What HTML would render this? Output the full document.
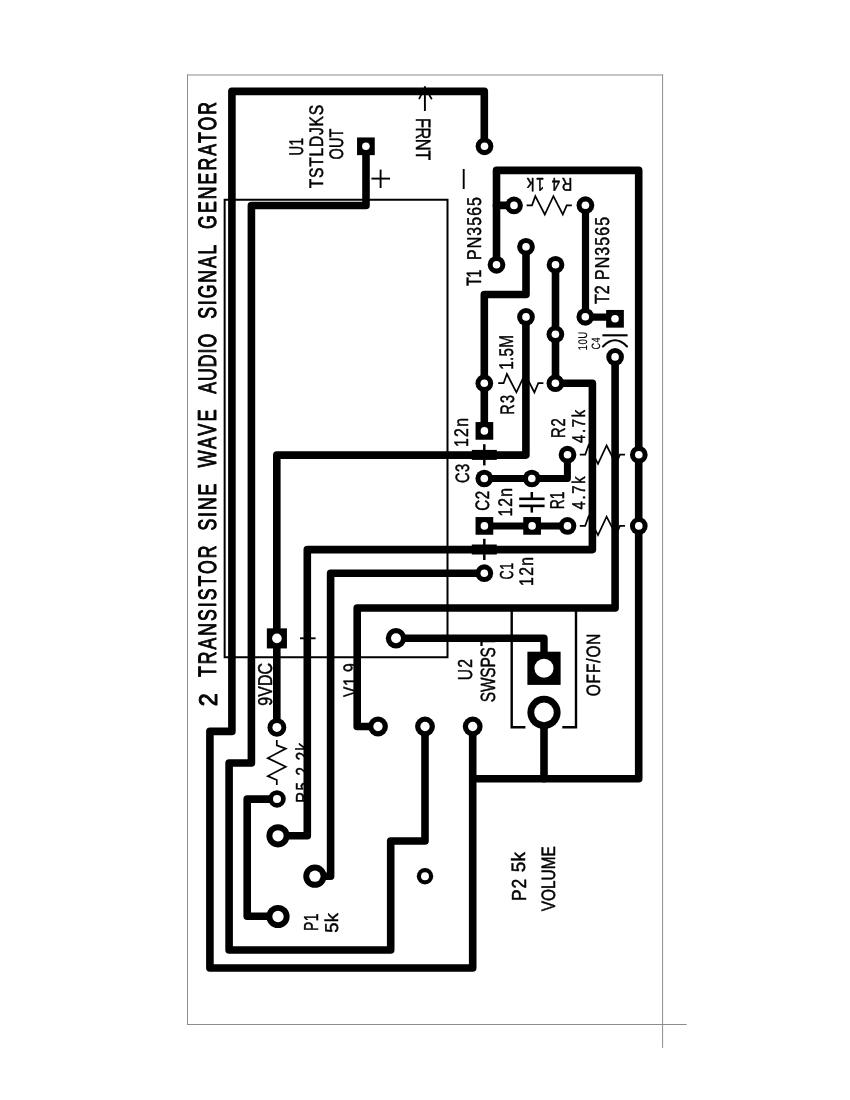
<!DOCTYPE html>
<html lang="en">
<head>
<meta charset="utf-8">
<title>2 Transistor Sine Wave Audio Signal Generator</title>
<style>
html,body{margin:0;padding:0;background:#fff;}
body{width:850px;height:1100px;overflow:hidden;}
svg{display:block;will-change:transform;}
text{font-family:"Liberation Sans",sans-serif;fill:#000;stroke:#000;stroke-linejoin:round;text-rendering:geometricPrecision;vector-effect:non-scaling-stroke;}
.tr{fill:none;stroke:#000;stroke-linejoin:round;stroke-linecap:round;}
.th{fill:none;stroke:#000;stroke-linejoin:miter;stroke-linecap:butt;}
.bd{fill:none;stroke:#8c8c8c;stroke-width:1;}
</style>
</head>
<body>
<svg width="850" height="1100" viewBox="0 0 850 1100" role="img" aria-label="PCB layout: 2 transistor sine wave audio signal generator">
<rect width="850" height="1100" fill="#fff"/>
<g class="bd">
<path d="M187 75H663M187.5 74.5V1025M187 1024.5H686.6M662.6 74.5V1047.9"/>
</g>
<g id="labels" opacity="0.999">
<text transform="translate(216.55 706.35) rotate(-90) scale(0.909 1)" font-size="25.60" textLength="23.15" lengthAdjust="spacing" stroke-width="1">2</text>
<text transform="translate(216.17 677.00) rotate(-90) scale(0.700 1)" font-size="25.25" textLength="187.86" lengthAdjust="spacing" stroke-width="1">TRANSISTOR</text>
<text transform="translate(216.17 530.53) rotate(-90) scale(0.700 1)" font-size="25.25" textLength="66.94" lengthAdjust="spacing" stroke-width="1">SINE</text>
<text transform="translate(216.42 467.62) rotate(-90) scale(0.700 1)" font-size="25.96" textLength="83.22" lengthAdjust="spacing" stroke-width="1">WAVE</text>
<text transform="translate(216.17 393.65) rotate(-90) scale(0.700 1)" font-size="25.25" textLength="85.43" lengthAdjust="spacing" stroke-width="1">AUDIO</text>
<text transform="translate(216.17 318.80) rotate(-90) scale(0.700 1)" font-size="25.25" textLength="106.01" lengthAdjust="spacing" stroke-width="1">SIGNAL</text>
<text transform="translate(216.17 228.95) rotate(-90) scale(0.700 1)" font-size="25.25" textLength="181.44" lengthAdjust="spacing" stroke-width="1">GENERATOR</text>
<text transform="translate(303.42 155.55) rotate(-90) scale(0.670 1)" font-size="19.81" textLength="26.09" lengthAdjust="spacing" stroke-width="0.5">U1</text>
<text transform="translate(322.82 188.25) rotate(-90) scale(0.800 1)" font-size="19.51" textLength="104.26" lengthAdjust="spacing" stroke-width="0.5">TSTLDJKS</text>
<text transform="translate(342.72 159.47) rotate(-90) scale(0.746 1)" font-size="19.51" textLength="41.37" lengthAdjust="spacing" stroke-width="0.5">OUT</text>
<text transform="translate(415.75 117.88) rotate(90) scale(0.791 1)" font-size="20.71" textLength="53.45" lengthAdjust="spacing" stroke-width="0.5">FRNT</text>
<text transform="translate(481.33 286.00) rotate(-90) scale(0.710 1)" font-size="20.65" textLength="23.27" lengthAdjust="spacing" stroke-width="0.5">T1</text>
<text transform="translate(481.08 259.98) rotate(-90) scale(0.800 1)" font-size="19.93" textLength="78.73" lengthAdjust="spacing" stroke-width="0.5">PN3565</text>
<text transform="translate(572.23 177.75) rotate(180) scale(0.800 1)" font-size="18.35" textLength="56.58" lengthAdjust="spacing" stroke-width="0.5">R4 1k</text>
<text transform="translate(609.05 304.12) rotate(-90) scale(0.787 1)" font-size="20.42" textLength="23.84" lengthAdjust="spacing" stroke-width="0.5">T2</text>
<text transform="translate(608.67 280.02) rotate(-90) scale(0.800 1)" font-size="20.06" textLength="78.85" lengthAdjust="spacing" stroke-width="0.5">PN3565</text>
<text transform="translate(513.73 414.70) rotate(-90) scale(0.742 1)" font-size="19.51" textLength="26.57" lengthAdjust="spacing" stroke-width="0.5">R3</text>
<text transform="translate(513.45 369.68) rotate(-90) scale(0.776 1)" font-size="19.73" textLength="44.67" lengthAdjust="spacing" stroke-width="0.5">1.5M</text>
<text transform="translate(468.48 447.05) rotate(-90) scale(0.800 1)" font-size="19.67" textLength="36.27" lengthAdjust="spacing" stroke-width="0.5">12n</text>
<text transform="translate(468.55 483.10) rotate(-90) scale(0.758 1)" font-size="19.32" textLength="25.26" lengthAdjust="spacing" stroke-width="0.5">C3</text>
<text transform="translate(489.17 510.85) rotate(-90) scale(0.778 1)" font-size="19.38" textLength="25.66" lengthAdjust="spacing" stroke-width="0.5">C2</text>
<text transform="translate(511.65 516.50) rotate(-90) scale(0.800 1)" font-size="19.60" textLength="35.62" lengthAdjust="spacing" stroke-width="0.5">12n</text>
<text transform="translate(564.45 509.35) rotate(-90) scale(0.692 1)" font-size="20.02" textLength="25.89" lengthAdjust="spacing" stroke-width="0.5">R1</text>
<text transform="translate(585.08 509.50) rotate(-90) scale(0.800 1)" font-size="18.43" textLength="41.38" lengthAdjust="spacing" stroke-width="0.5">4.7k</text>
<text transform="translate(564.72 438.00) rotate(-90) scale(0.740 1)" font-size="19.81" textLength="26.54" lengthAdjust="spacing" stroke-width="0.5">R2</text>
<text transform="translate(585.08 443.02) rotate(-90) scale(0.800 1)" font-size="18.43" textLength="41.31" lengthAdjust="spacing" stroke-width="0.5">4.7k</text>
<text transform="translate(512.60 579.50) rotate(-90) scale(0.669 1)" font-size="18.77" textLength="24.92" lengthAdjust="spacing" stroke-width="0.5">C1</text>
<text transform="translate(533.00 585.90) rotate(-90) scale(0.800 1)" font-size="19.60" textLength="36.16" lengthAdjust="spacing" stroke-width="0.5">12n</text>
<text transform="translate(271.70 705.63) rotate(-90) scale(0.800 1)" font-size="20.00" textLength="53.33" lengthAdjust="spacing" stroke-width="0.5">9VDC</text>
<text transform="translate(356.82 697.10) rotate(-90) scale(0.800 1)" font-size="19.52" textLength="42.39" lengthAdjust="spacing" stroke-width="0.5">V1.9</text>
<text transform="translate(309.18 802.80) rotate(-90) scale(0.800 1)" font-size="18.85" textLength="74.76" lengthAdjust="spacing" stroke-width="0.5">R5 2.2k</text>
<text transform="translate(471.70 680.22) rotate(-90) scale(0.777 1)" font-size="20.14" textLength="27.23" lengthAdjust="spacing" stroke-width="0.5">U2</text>
<text transform="translate(495.40 702.13) rotate(-90) scale(0.754 1)" font-size="20.54" textLength="73.02" lengthAdjust="spacing" stroke-width="0.5">SWSPS</text>
<text transform="translate(495.38 646.15) rotate(-90) scale(0.794 1)" font-size="20.78" textLength="10.26" lengthAdjust="spacing" stroke-width="0.5">T</text>
<text transform="translate(600.03 696.30) rotate(-90) scale(0.800 1)" font-size="19.25" textLength="78.42" lengthAdjust="spacing" stroke-width="0.5">OFF/ON</text>
<text transform="translate(317.85 930.88) rotate(-90) scale(0.687 1)" font-size="20.17" textLength="25.25" lengthAdjust="spacing" stroke-width="0.5">P1</text>
<text transform="translate(338.02 932.82) rotate(-90) scale(0.992 1)" font-size="18.57" textLength="19.91" lengthAdjust="spacing" stroke-width="0.5">5k</text>
<text transform="translate(525.55 901.02) rotate(-90) scale(0.859 1)" font-size="20.29" textLength="25.99" lengthAdjust="spacing" stroke-width="0.5">P2</text>
<text transform="translate(525.17 872.20) rotate(-90) scale(0.985 1)" font-size="19.25" textLength="20.62" lengthAdjust="spacing" stroke-width="0.5">5k</text>
<text transform="translate(554.63 911.25) rotate(-90) scale(0.800 1)" font-size="19.38" textLength="81.50" lengthAdjust="spacing" stroke-width="0.5">VOLUME</text>
<text transform="translate(587.10 350.47) rotate(-90) scale(0.778 1)" font-size="12.54" textLength="24.25" lengthAdjust="spacing" stroke-width="0.15" fill="#222" stroke="#222">10U</text>
<text transform="translate(599.95 349.48) rotate(-90) scale(0.753 1)" font-size="12.00" textLength="15.91" lengthAdjust="spacing" stroke-width="0.15" fill="#222" stroke="#222">C4</text>
</g>
<g id="symbols" class="th">
<polyline points="224.65,199.8 447.5,199.8 447.5,657.3 224.65,657.3 224.65,198.8" stroke-width="2"/>
<polyline points="371.4,178.6 390,178.6" stroke-width="1.9"/>
<polyline points="380.6,169.6 380.6,188" stroke-width="1.9"/>
<polyline points="463.7,169 463.7,189" stroke-width="1.9"/>
<polyline points="300,638.3 315.6,638.3" stroke-width="1.9"/>
<polyline points="424.9,86.5 424.9,111" stroke-width="1.9"/>
<polyline points="419,99.2 424.9,87.5 431.8,99.2" stroke-width="1.7"/>
<polyline points="526.6,205.3 532,205.3 535.3,196.1 544.8,214.5 553.4,196.1 562.8,214.5 566.7,205.3 571.8,205.3" stroke-width="1.7"/>
<polyline points="498.2,383.2 503.6,383.2 506.9,374 516.4,392.4 525,374 534.4,392.4 538.3,383.2 543.4,383.2" stroke-width="1.7"/>
<polyline points="579.8,454.7 585.2,454.7 588.5,445.5 598,463.9 606.6,445.5 616,463.9 619.9,454.7 625,454.7" stroke-width="1.7"/>
<polyline points="579.8,525.9 585.2,525.9 588.5,516.7 598,535.1 606.6,516.7 616,535.1 619.9,525.9 625,525.9" stroke-width="1.7"/>
<polyline points="276.8,739.9 276.8,745.3 285.8,748.6 267.8,758.1 285.8,766.7 267.8,776.1 276.8,780 276.8,785.1" stroke-width="1.7"/>
<polyline points="484.3,444.2 484.3,450.5" stroke-width="2.5"/>
<polyline points="484.3,459.5 484.3,465.4" stroke-width="2.5"/>
<polyline points="471.8,451.1 496.8,451.1" stroke-width="2.4"/>
<polyline points="471.8,458.7 496.8,458.7" stroke-width="2.4"/>
<polyline points="484.3,538.8 484.3,545.1" stroke-width="2.5"/>
<polyline points="484.3,554.1 484.3,560" stroke-width="2.5"/>
<polyline points="471.8,545.7 496.8,545.7" stroke-width="2.4"/>
<polyline points="471.8,553.3 496.8,553.3" stroke-width="2.4"/>
<polyline points="531.8,492 531.8,498.8" stroke-width="2.5"/>
<polyline points="531.8,505.9 531.8,512.6" stroke-width="2.5"/>
<polyline points="519.2,498.8 544.6,498.8" stroke-width="2.6"/>
<polyline points="519.2,505.9 544.6,505.9" stroke-width="2.6"/>
<polyline points="525.4,727.3 511.7,727.3 511.7,608 576,608 576,727.3 562.3,727.3" stroke-width="2.4"/>
<path d="M602.4 335.3H627.6" stroke-width="2.1"/>
<path d="M603 346.4Q615 334.2 627 346.4" stroke-width="2.1" stroke-linecap="round"/>
</g>
<g id="traces" class="tr">
<polyline points="484.3,146 484.3,91.4 231.9,91.4 231.9,731.4 209.9,731.4 209.9,968 472.7,968 472.7,726.2" stroke-width="7.6"/>
<polyline points="366,146.3 366,205.5 251.4,205.5 251.4,763 229.1,763 229.1,950 390.7,950 390.7,841 425,841 425,726.2" stroke-width="7.6"/>
<polyline points="525.9,317 525.9,455.1 276.8,455.1 276.8,727.4" stroke-width="7.6"/>
<polyline points="526,246.8 526,294.5 484.3,294.5 484.3,431" stroke-width="7.6"/>
<polyline points="496.5,264.8 496.5,170.4 638.7,170.4 638.7,778.8 472.7,778.8" stroke-width="7.6"/>
<polyline points="496.5,205.4 514,205.4" stroke-width="7.6"/>
<polyline points="585.5,205.2 585.5,317.1 615,317.1" stroke-width="7.2"/>
<polyline points="555.5,264.8 555.5,383.2 592.4,383.2 592.4,549.6 307.3,549.6 307.3,835.7 278,835.7" stroke-width="7.6"/>
<polyline points="484.3,573.2 330.6,573.2 330.6,876.3 315,876.3" stroke-width="7.6"/>
<polyline points="615.1,357 615.1,608 357.2,608 357.2,726.5 378,726.5" stroke-width="7.6"/>
<polyline points="484.3,478.5 567.4,478.5 567.4,454.7" stroke-width="7"/>
<polyline points="484.4,525.9 567.5,525.9" stroke-width="7"/>
<polyline points="396,638.2 544,638.2 544,655" stroke-width="7.4"/>
<polyline points="544,712 544,778.8" stroke-width="7.6"/>
<polyline points="276.9,799.1 247.2,799.1 247.2,916.2 278,916.2" stroke-width="7.6"/>
</g>
<g id="pads">
<circle cx="484.5" cy="146.3" r="8.85"/><circle cx="484.5" cy="146.3" r="3.8" fill="#fff"/>
<circle cx="514" cy="205.4" r="8.85"/><circle cx="514" cy="205.4" r="3.8" fill="#fff"/>
<circle cx="585.4" cy="205.2" r="8.85"/><circle cx="585.4" cy="205.2" r="3.8" fill="#fff"/>
<circle cx="526" cy="246.8" r="8.85"/><circle cx="526" cy="246.8" r="3.8" fill="#fff"/>
<circle cx="555.5" cy="264.8" r="8.85"/><circle cx="555.5" cy="264.8" r="3.8" fill="#fff"/>
<circle cx="496.5" cy="264.8" r="8.85"/><circle cx="496.5" cy="264.8" r="3.8" fill="#fff"/>
<circle cx="585.3" cy="316.8" r="8.85"/><circle cx="585.3" cy="316.8" r="3.8" fill="#fff"/>
<circle cx="526" cy="316.9" r="8.85"/><circle cx="526" cy="316.9" r="3.8" fill="#fff"/>
<circle cx="555.4" cy="334.3" r="8.85"/><circle cx="555.4" cy="334.3" r="3.8" fill="#fff"/>
<circle cx="484.3" cy="383.2" r="8.85"/><circle cx="484.3" cy="383.2" r="3.8" fill="#fff"/>
<circle cx="555.4" cy="383.2" r="8.85"/><circle cx="555.4" cy="383.2" r="3.8" fill="#fff"/>
<circle cx="615.1" cy="356.9" r="8.85"/><circle cx="615.1" cy="356.9" r="3.8" fill="#fff"/>
<circle cx="567.5" cy="454.7" r="8.85"/><circle cx="567.5" cy="454.7" r="3.8" fill="#fff"/>
<circle cx="484.3" cy="478.5" r="8.85"/><circle cx="484.3" cy="478.5" r="3.8" fill="#fff"/>
<circle cx="531.8" cy="478.5" r="8.85"/><circle cx="531.8" cy="478.5" r="3.8" fill="#fff"/>
<circle cx="567.5" cy="525.9" r="8.85"/><circle cx="567.5" cy="525.9" r="3.8" fill="#fff"/>
<circle cx="638.8" cy="454.7" r="8.85"/><circle cx="638.8" cy="454.7" r="3.8" fill="#fff"/>
<circle cx="638.8" cy="525.9" r="8.85"/><circle cx="638.8" cy="525.9" r="3.8" fill="#fff"/>
<circle cx="484.3" cy="573.2" r="8.85"/><circle cx="484.3" cy="573.2" r="3.8" fill="#fff"/>
<circle cx="396" cy="638.3" r="10.2"/><circle cx="396" cy="638.3" r="4.95" fill="#fff"/>
<circle cx="276.9" cy="727.4" r="9.4"/><circle cx="276.9" cy="727.4" r="4.5" fill="#fff"/>
<circle cx="378" cy="726.5" r="9.9"/><circle cx="378" cy="726.5" r="4.65" fill="#fff"/>
<circle cx="425" cy="726.5" r="9.9"/><circle cx="425" cy="726.5" r="4.65" fill="#fff"/>
<circle cx="472.7" cy="726.5" r="9.9"/><circle cx="472.7" cy="726.5" r="4.65" fill="#fff"/>
<circle cx="278" cy="835.8" r="11.6"/><circle cx="278" cy="835.8" r="5.65" fill="#fff"/>
<circle cx="314.9" cy="876.2" r="11.6"/><circle cx="314.9" cy="876.2" r="5.65" fill="#fff"/>
<circle cx="278" cy="916.5" r="11.6"/><circle cx="278" cy="916.5" r="5.65" fill="#fff"/>
<circle cx="277" cy="798.9" r="8.75"/><circle cx="277" cy="798.9" r="4" fill="#fff"/>
<circle cx="425" cy="876.2" r="8.2"/><circle cx="425" cy="876.2" r="4" fill="#fff"/>
<rect x="357.05" y="137.45" width="17.7" height="17.7"/><circle cx="365.9" cy="146.3" r="3.8" fill="#fff"/>
<rect x="606.15" y="309.95" width="17.7" height="17.7"/><circle cx="615" cy="318.8" r="3.8" fill="#fff"/>
<rect x="475.55" y="422.05" width="17.7" height="17.7"/><circle cx="484.4" cy="430.9" r="3.8" fill="#fff"/>
<rect x="475.55" y="517.05" width="17.7" height="17.7"/><circle cx="484.4" cy="525.9" r="3.8" fill="#fff"/>
<rect x="523.25" y="517.05" width="17.7" height="17.7"/><circle cx="532.1" cy="525.9" r="3.8" fill="#fff"/>
<rect x="266.85" y="628.35" width="20.1" height="20.1"/><circle cx="276.9" cy="638.4" r="4.8" fill="#fff"/>
<rect x="527.4" y="651.7" width="33.2" height="33.2"/><circle cx="544" cy="668.3" r="9.5" fill="#fff"/>
<circle cx="544" cy="712.4" r="16.6"/><circle cx="544" cy="712.4" r="9.8" fill="#fff"/>
</g>
</svg>
</body>
</html>
